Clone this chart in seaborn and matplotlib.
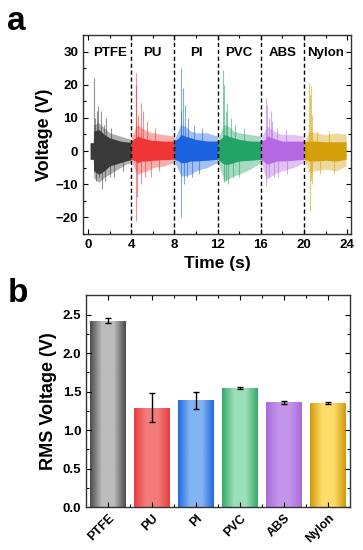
import numpy as np
import pandas as pd
import matplotlib
matplotlib.use("Agg")
import matplotlib.pyplot as plt
import seaborn as sns
from matplotlib.colors import LinearSegmentedColormap, to_rgb

# materials and colours
materials = ["PTFE", "PU", "PI", "PVC", "ABS", "Nylon"]
sig_colors = ["#3a3a3a", "#f03535", "#1a62e0", "#22a466", "#b468e2", "#d4a00a"]
bar_dark = ["#4a4a4a", "#e83c3c", "#1f68dc", "#35a86a", "#a86ad8", "#d09a08"]
bar_light = ["#bcbcbc", "#f47c7c", "#82b4f2", "#9ae0b8", "#c494ec", "#ffdc6a"]

# panel b: RMS voltage (V) and error
rms_values = [2.42, 1.29, 1.39, 1.55, 1.36, 1.35]
rms_errors = [0.03, 0.19, 0.11, 0.01, 0.02, 0.01]

# panel a: signal envelope, per segment
env_t = [
    [0.2, 0.5, 0.52, 1.0, 1.5, 2.0, 2.5, 3.0, 3.5, 4.0],
    [4.0, 4.4, 4.6, 5.0, 5.5, 6.0, 7.0, 8.0],
    [8.0, 8.4, 8.6, 9.0, 9.5, 10.0, 11.0, 12.0],
    [12.0, 12.4, 12.6, 13.0, 13.5, 14.0, 15.0, 16.0],
    [16.0, 16.4, 16.6, 17.0, 17.5, 18.0, 19.0, 20.0],
    [20.0, 20.4, 20.6, 21.0, 22.0, 23.0, 23.9],
]
core_up = [
    [2.5, 2.5, 6.0, 6.5, 5.0, 4.0, 3.5, 3.0, 2.8, 2.6],
    [3.0, 4.0, 4.5, 4.0, 3.5, 3.2, 3.0, 3.0],
    [3.0, 4.0, 5.0, 4.5, 4.0, 3.5, 3.0, 3.0],
    [3.0, 4.0, 5.0, 4.5, 4.0, 3.5, 3.0, 3.0],
    [3.0, 3.5, 4.5, 4.0, 3.5, 3.0, 3.0, 3.0],
    [2.8, 3.0, 3.0, 3.0, 2.8, 2.8, 2.8],
]
core_lo = [
    [-2.5, -2.5, -6.0, -7.0, -6.0, -4.5, -4.0, -3.5, -3.0, -2.6],
    [-2.5, -3.0, -3.5, -3.0, -3.0, -2.8, -2.6, -2.5],
    [-2.5, -3.0, -3.5, -3.5, -3.0, -3.0, -2.8, -2.5],
    [-2.5, -3.5, -4.0, -4.0, -3.5, -3.0, -2.8, -2.5],
    [-2.5, -3.5, -4.0, -3.5, -3.0, -3.0, -2.8, -2.5],
    [-2.5, -3.0, -3.0, -3.0, -2.8, -3.0, -2.5],
]
outer_up = [
    [2.5, 2.5, 8.0, 8.5, 7.0, 5.5, 5.0, 4.5, 4.0, 3.5],
    [4.0, 7.0, 8.0, 7.0, 6.0, 5.5, 5.0, 4.5],
    [3.5, 6.5, 8.0, 7.5, 6.0, 5.5, 5.5, 4.5],
    [3.5, 6.5, 8.0, 7.5, 6.0, 5.5, 5.0, 4.5],
    [3.5, 6.5, 7.5, 6.5, 5.5, 5.0, 5.0, 4.5],
    [3.0, 5.5, 6.0, 5.5, 5.0, 5.5, 5.0],
]
outer_lo = [
    [-2.5, -2.5, -8.0, -9.5, -8.0, -7.0, -6.0, -5.0, -4.0, -3.5],
    [-3.0, -6.0, -7.0, -6.5, -6.0, -5.0, -4.5, -3.5],
    [-3.0, -6.0, -7.5, -7.5, -7.0, -6.0, -5.0, -3.5],
    [-3.5, -7.0, -9.0, -8.5, -7.5, -7.0, -5.5, -3.5],
    [-3.0, -7.5, -8.5, -7.5, -6.5, -6.0, -5.0, -3.5],
    [-2.5, -6.0, -6.5, -6.0, -5.5, -6.0, -4.5],
]
# isolated spikes (time, peak)
spike_t = [
    [0.55, 0.62, 0.8, 0.95, 1.2, 1.45, 1.7, 2.1, 0.7, 1.0, 1.3, 1.6, 2.0, 2.4, 3.2],
    [4.4, 4.45, 4.6, 4.9, 5.1, 5.5, 6.2, 4.47, 4.55, 4.9, 5.3, 5.8, 6.6],
    [8.6, 8.65, 8.75, 9.0, 9.3, 9.8, 10.6, 8.62, 8.9, 9.2, 9.6, 10.3],
    [12.5, 12.6, 12.75, 12.9, 13.2, 13.6, 14.4, 12.6, 12.8, 13.0, 13.4, 14.0],
    [16.5, 16.6, 16.75, 16.9, 17.0, 17.5, 18.3, 16.5, 16.8, 17.2, 17.6, 18.4],
    [20.5, 20.55, 20.6, 20.7, 21.2, 22.3, 20.55, 20.6, 20.7, 21.5, 22.8],
]
spike_v = [
    [22, 10, 12, 13.5, 12, 8, 10, 7, -9, -8, -11.5, -9, -8, -8, -6],
    [23.5, 20, 11, 14.5, 12, 9, 7, -21, -14, -10, -8, -8, -6],
    [25, 12, 19, 14, 10, 8, 7, -20, -10, -8, -8, -7],
    [24.5, 20, 12, 14.5, 10, 8, 7, -9.5, -9, -10, -8, -8],
    [16, 14, 10, 12, 9, 7, 6.5, -10.5, -8, -8, -8, -7],
    [20.5, 17, 19.5, 11, 6, 6, -18, -9, -10, -7, -7],
]

plt.rcParams["font.family"] = ["Liberation Sans", "DejaVu Sans"]
plt.rcParams["font.weight"] = "bold"
plt.rcParams["axes.labelweight"] = "bold"

fig = plt.figure(figsize=(3.63, 5.5), dpi=100)
ax1 = fig.add_axes([0.229, 0.575, 0.738, 0.361])
ax2 = fig.add_axes([0.237, 0.078, 0.727, 0.385])

# ---- panel a ----
for i, m in enumerate(materials):
    c = sig_colors[i]
    t = np.array(env_t[i])
    ax1.fill_between(t, outer_lo[i], outer_up[i], color=c, alpha=0.4, lw=0)
    ax1.fill_between(t, core_lo[i], core_up[i], color=c, lw=0)
    sp = pd.DataFrame({"t": spike_t[i], "v": spike_v[i]})
    ax1.vlines(sp["t"], 0, sp["v"], color=c, alpha=0.55, lw=0.8)
    ax1.text(4 * i + 2, 29.5, m, ha="center", va="center", fontsize=9.5, fontweight="bold")

for x in [4, 8, 12, 16, 20]:
    ax1.axvline(x, color="black", ls=(0, (3, 2)), lw=1)

ax1.set_xlim(-0.45, 24.35)
ax1.set_ylim(-25, 35)
ax1.set_xticks(range(0, 25, 4))
ax1.set_yticks([-20, -10, 0, 10, 20, 30])
ax1.set_xticks(range(2, 24, 4), minor=True)
ax1.set_yticks(range(-25, 35, 10), minor=True)
ax1.set_xlabel("Time (s)", fontsize=12.5, labelpad=4)
ax1.set_ylabel("Voltage (V)", fontsize=13, labelpad=2)

# ---- panel b ----
df = pd.DataFrame({"material": materials, "rms": rms_values})
sns.barplot(data=df, x="material", y="rms", hue="material", palette=bar_dark,
            legend=False, width=0.8, ax=ax2, errorbar=None, linewidth=0)
for i, p in enumerate(ax2.patches):
    x0, y0 = p.get_x(), p.get_y()
    w, h = p.get_width(), p.get_height()
    cmap = LinearSegmentedColormap.from_list(
        "g", [to_rgb(bar_dark[i]), to_rgb(bar_light[i]), to_rgb(bar_light[i]), to_rgb(bar_dark[i])])
    grad = np.linspace(0, 1, 256).reshape(1, -1)
    im = ax2.imshow(grad, cmap=cmap, aspect="auto", extent=[x0, x0 + w, y0, y0 + h],
                    zorder=p.get_zorder() + 0.1)
    im.set_clip_path(p)
ax2.set_xlim(-0.5, 5.5)
ax2.set_ylim(0, 2.75)
ax2.errorbar(range(len(materials)), rms_values, yerr=rms_errors, fmt="none",
             ecolor="black", elinewidth=1, capsize=2.5, capthick=1, zorder=5)
ax2.set_yticks([0, 0.5, 1.0, 1.5, 2.0, 2.5])
ax2.set_yticks(np.arange(0.25, 2.75, 0.5), minor=True)
ax2.set_xticks(np.arange(0.5, 5.5, 1), minor=True)
ax2.set_xticks(range(len(materials)))
ax2.set_xticklabels(materials, rotation=45, ha="right", rotation_mode="anchor", fontsize=9)
ax2.set_xlabel("")
ax2.set_ylabel("RMS Voltage (V)", fontsize=13, labelpad=4)

for ax in (ax1, ax2):
    ax.tick_params(which="both", direction="in", top=True, right=True, width=0.8)
    ax.tick_params(which="major", length=3.5, labelsize=9.5)
    ax.tick_params(which="minor", length=2)
    for s in ax.spines.values():
        s.set_linewidth(1)
        s.set_color("#333333")
    for lab in ax.get_xticklabels() + ax.get_yticklabels():
        lab.set_fontweight("bold")
ax2.tick_params(axis="x", labelsize=9)

fig.text(0.02, 0.99, "a", fontsize=24, fontweight="bold", va="top")
fig.text(0.02, 0.495, "b", fontsize=24, fontweight="bold", va="top")

fig.savefig("out.png", dpi=100)
